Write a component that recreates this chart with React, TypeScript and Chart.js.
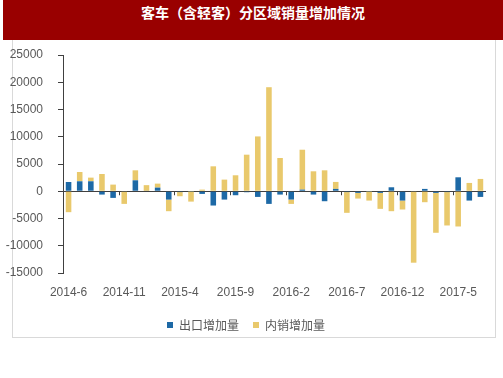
import React, { useEffect, useRef } from "react";
import { Chart, registerables } from "chart.js";

Chart.register(...registerables);

const TITLE = "客车（含轻客）分区域销量增加情况";
const SERIES_NAMES = ["出口增加量", "内销增加量"];

const months = [
  "2014-6", "2014-7", "2014-8", "2014-9", "2014-10", "2014-11", "2014-12",
  "2015-1", "2015-2", "2015-3", "2015-4", "2015-5", "2015-6", "2015-7", "2015-8",
  "2015-9", "2015-10", "2015-11", "2015-12", "2016-1", "2016-2", "2016-3", "2016-4",
  "2016-5", "2016-6", "2016-7", "2016-8", "2016-9", "2016-10", "2016-11", "2016-12",
  "2017-1", "2017-2", "2017-3", "2017-4", "2017-5", "2017-6", "2017-7",
];

const exportIncrease = [
  1700, 1830, 1830, -610, -1220, -100, 2010, 80, 670, -1530,
  -150, -50, -490, -2620, -1530, -730, -180, -1040, -2320, -610,
  -1525, 300, -610, -1830, 430, -150, -300, -50, -300, 730,
  -1710, -100, 430, -300, -150, 2560, -1710, -1040,
];

const domesticIncrease = [
  -3840, 1700, 670, 3170, 1220, -2220, 1830, 1040, 730, -2130,
  -765, -1850, 300, 4575, 2135, 2930, 6710, 10060, 19090, 6100,
  -800, 7320, 3660, 3840, 1280, -3810, -1040, -1660, -2930, -3660,
  -1640, -13010, -2010, -7320, -6130, -6465, 1525, 2260,
];

const LABEL_EVERY = 5;
const Y_MIN = -15000;
const Y_MAX = 25000;
const Y_STEP = 5000;

const BLUE = "#1d69a6";
const YELLOW = "#e9c96c";
const AXIS = "#404040";
const TEXT = "#595959";

const boundaryTicks = {
  id: "boundaryTicks",
  afterDatasetsDraw(chart: any) {
    const x = chart.scales.x;
    const y = chart.scales.y;
    const zeroY = y.getPixelForValue(0);
    const ctx = chart.ctx;
    ctx.save();
    ctx.strokeStyle = AXIS;
    ctx.lineWidth = 1;
    for (let i = LABEL_EVERY; i < months.length; i += LABEL_EVERY) {
      const px = Math.round((x.getPixelForValue(i - 1) + x.getPixelForValue(i)) / 2) + 0.5;
      ctx.beginPath();
      ctx.moveTo(px, zeroY);
      ctx.lineTo(px, zeroY + 4);
      ctx.stroke();
    }
    ctx.restore();
  },
};

export default function App() {
  const ref = useRef<HTMLCanvasElement>(null);

  useEffect(() => {
    if (!ref.current) return;
    const chart = new Chart(ref.current, {
      type: "bar",
      data: {
        labels: months,
        datasets: [
          { label: SERIES_NAMES[0], data: exportIncrease, backgroundColor: BLUE },
          { label: SERIES_NAMES[1], data: domesticIncrease, backgroundColor: YELLOW },
        ],
      },
      plugins: [boundaryTicks],
      options: {
        responsive: false,
        animation: false,
        layout: { padding: { left: 6, right: 17, top: 15, bottom: 0 } },
        datasets: { bar: { categoryPercentage: 1, barPercentage: 0.5 } } as any,
        plugins: {
          legend: {
            position: "bottom",
            labels: {
              boxWidth: 6,
              boxHeight: 6,
              padding: 14,
              color: TEXT,
              font: { size: 12, family: "'Noto Sans CJK SC', sans-serif" },
            },
          },
          tooltip: { enabled: false },
        },
        scales: {
          x: {
            stacked: true,
            grid: { display: false, drawTicks: false },
            border: { display: false },
            afterFit(scale: any) {
              scale.height = 32;
            },
            ticks: {
              autoSkip: false,
              maxRotation: 0,
              padding: 12,
              color: TEXT,
              font: { size: 12, family: "'Liberation Sans', Arial, sans-serif" },
              callback: (_v: any, i: number) => (i % LABEL_EVERY === 0 ? months[i] : ""),
            },
          },
          y: {
            stacked: true,
            min: Y_MIN,
            max: Y_MAX,
            afterFit(scale: any) {
              scale.width = 57;
              scale.paddingTop = 7;
              scale.paddingBottom = 7;
            },
            border: { display: true, color: AXIS, width: 1 },
            grid: {
              drawTicks: true,
              tickLength: 5,
              tickColor: AXIS,
              color: (c: any) => (c.tick && c.tick.value === 0 ? AXIS : "rgba(0,0,0,0)"),
            },
            ticks: {
              stepSize: Y_STEP,
              padding: 15,
              color: TEXT,
              font: { size: 12, family: "'Liberation Sans', Arial, sans-serif" },
              callback: (v: any) => String(v),
            },
          },
        },
      },
    });
    return () => chart.destroy();
  }, []);

  return (
    <div style={{ position: "absolute", left: 0, top: 0, width: 503, height: 378, background: "#fff", overflow: "hidden" }}>
      <div
        style={{
          position: "absolute", left: 3, top: 0, width: 500, height: 40, background: "#990000",
          color: "#fff", fontFamily: "'Noto Sans CJK SC', sans-serif", fontWeight: 700, fontSize: 14,
          lineHeight: "24px", textAlign: "center",
        }}
      >
        {TITLE}
      </div>
      <div style={{ position: "absolute", left: 12, top: 40, width: 1, height: 298, background: "#d9d9d9" }} />
      <div style={{ position: "absolute", left: 495, top: 40, width: 1, height: 298, background: "#d9d9d9" }} />
      <div style={{ position: "absolute", left: 12, top: 337, width: 484, height: 1, background: "#d9d9d9" }} />
      <canvas ref={ref} width={503} height={301} style={{ position: "absolute", left: 0, top: 40 }} />
    </div>
  );
}
